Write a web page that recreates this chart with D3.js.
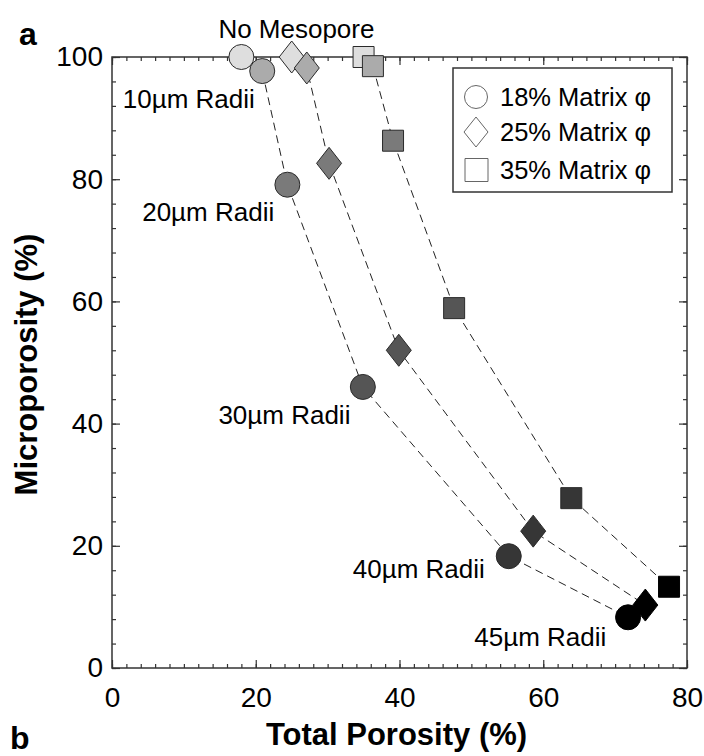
<!DOCTYPE html>
<html>
<head>
<meta charset="utf-8">
<script src="https://cdn.jsdelivr.net/npm/d3@7"></script>
<style>
  html, body { margin: 0; padding: 0; background: #fff; }
  svg { display: block; font-family: "Liberation Sans", Arial, sans-serif; }
</style>
</head>
<body>
<svg id="chart" width="704" height="756"></svg>
<script>
// Total porosity (%) and microporosity (%) for each mesopore radius step
const radiusSteps = ["No Mesopore", "10µm Radii", "20µm Radii", "30µm Radii", "40µm Radii", "45µm Radii"];

const totalPorosity18 = [18.0, 20.9, 24.4, 34.9, 55.2, 71.8];
const microporosity18 = [100.0, 97.7, 79.1, 46.0, 18.3, 8.3];

const totalPorosity25 = [25.0, 27.1, 30.2, 39.9, 58.6, 74.2];
const microporosity25 = [100.0, 98.2, 82.6, 52.0, 22.4, 10.3];

const totalPorosity35 = [35.0, 36.3, 39.1, 47.6, 63.9, 77.5];
const microporosity35 = [100.0, 98.5, 86.3, 58.9, 27.8, 13.3];

const seriesNames = ["18% Matrix φ", "25% Matrix φ", "35% Matrix φ"];

const xTicks = [0, 20, 40, 60, 80];
const yTicks = [0, 20, 40, 60, 80, 100];

// Annotation anchors, in data units (total porosity, microporosity)
const labelX = [14.8, 1.5, 4.2, 14.8, 33.5, 50.4];
const labelY = [103.1, 91.6, 73.2, 39.9, 14.7, 3.6];

// ---------------------------------------------------------------
const svg = d3.select("#chart");
const plotLeft = 112, plotRight = 687, plotTop = 57, plotBottom = 668;

const x = d3.scaleLinear().domain([0, 80]).range([plotLeft, plotRight]);
const y = d3.scaleLinear().domain([0, 100]).range([plotBottom, plotTop]);

// Grey shade per radius step, light for no mesopore to black at 45µm
const shade = d3.scaleOrdinal().domain(d3.range(6))
  .range(["#dedede", "#ababab", "#7a7a7a", "#555555", "#363636", "#000000"]);

const frameColor = "#333";

// ---- axes: major + minor ticks on all four sides, pointing inward
const xMinor = d3.range(0, 80.001, 2);
const yMinor = d3.range(0, 100.001, 4);

function styleAxis(g) {
  g.select(".domain").remove();
  g.selectAll(".tick line").attr("stroke", frameColor).attr("stroke-width", 1.2);
  g.selectAll(".tick text").attr("fill", "#000").attr("font-size", 28)
    .attr("font-family", "'Liberation Sans', Arial, sans-serif");
}

// bottom
svg.append("g").attr("transform", `translate(0,${plotBottom})`)
  .call(d3.axisBottom(x).tickValues(xMinor).tickSize(-4).tickFormat(""))
  .call(styleAxis);
svg.append("g").attr("transform", `translate(0,${plotBottom})`)
  .call(d3.axisBottom(x).tickValues(xTicks).tickSize(-8).tickPadding(19).tickFormat(d3.format("d")))
  .call(styleAxis);
// top
svg.append("g").attr("transform", `translate(0,${plotTop})`)
  .call(d3.axisTop(x).tickValues(xMinor).tickSize(-4).tickFormat(""))
  .call(styleAxis);
svg.append("g").attr("transform", `translate(0,${plotTop})`)
  .call(d3.axisTop(x).tickValues(xTicks).tickSize(-8).tickFormat(""))
  .call(styleAxis);
// left
svg.append("g").attr("transform", `translate(${plotLeft},0)`)
  .call(d3.axisLeft(y).tickValues(yMinor).tickSize(-4).tickFormat(""))
  .call(styleAxis);
svg.append("g").attr("transform", `translate(${plotLeft},0)`)
  .call(d3.axisLeft(y).tickValues(yTicks).tickSize(-8).tickPadding(9).tickFormat(d3.format("d")))
  .call(styleAxis);
// right
svg.append("g").attr("transform", `translate(${plotRight},0)`)
  .call(d3.axisRight(y).tickValues(yMinor).tickSize(-4).tickFormat(""))
  .call(styleAxis);
svg.append("g").attr("transform", `translate(${plotRight},0)`)
  .call(d3.axisRight(y).tickValues(yTicks).tickSize(-8).tickFormat(""))
  .call(styleAxis);

// frame
svg.append("rect")
  .attr("x", plotLeft).attr("y", plotTop)
  .attr("width", plotRight - plotLeft).attr("height", plotBottom - plotTop)
  .attr("fill", "none").attr("stroke", frameColor).attr("stroke-width", 1.5);

// ---- axis titles and panel letters
svg.append("text")
  .attr("x", (plotLeft + plotRight) / 2 - 3).attr("y", 745)
  .attr("text-anchor", "middle").attr("font-size", 31).attr("font-weight", "bold")
  .text("Total Porosity (%)");

svg.append("text")
  .attr("transform", `translate(37,${(plotTop + plotBottom) / 2 + 2}) rotate(-90)`)
  .attr("text-anchor", "middle").attr("font-size", 31).attr("font-weight", "bold")
  .text("Microporosity (%)");

svg.append("text").attr("x", 19).attr("y", 45)
  .attr("font-size", 32).attr("font-weight", "bold").text("a");
svg.append("text").attr("x", 10).attr("y", 749)
  .attr("font-size", 32).attr("font-weight", "bold").text("b");

// ---- series
const series = [
  { name: seriesNames[0], xs: totalPorosity18, ys: microporosity18, shape: "circle" },
  { name: seriesNames[1], xs: totalPorosity25, ys: microporosity25, shape: "diamond" },
  { name: seriesNames[2], xs: totalPorosity35, ys: microporosity35, shape: "square" }
];

const line = d3.line().x(d => x(d[0])).y(d => y(d[1]));

svg.append("g").selectAll("path.trend")
  .data(series).join("path")
  .attr("class", "trend")
  .attr("d", s => line(s.xs.map((v, i) => [v, s.ys[i]])))
  .attr("fill", "none").attr("stroke", "#222").attr("stroke-width", 1)
  .attr("stroke-dasharray", "8,5");

// marker outlines
function markerPath(shape, cx, cy) {
  if (shape === "circle") {
    const r = 12.5;
    return `M${cx - r},${cy}a${r},${r} 0 1,0 ${2 * r},0a${r},${r} 0 1,0 ${-2 * r},0Z`;
  }
  if (shape === "diamond") {
    const w = 12.5, h = 16;
    return `M${cx},${cy - h}L${cx + w},${cy}L${cx},${cy + h}L${cx - w},${cy}Z`;
  }
  const s = 10.5;
  return `M${cx - s},${cy - s}H${cx + s}V${cy + s}H${cx - s}Z`;
}

series.forEach(s => {
  svg.append("g").selectAll("path")
    .data(s.xs.map((v, i) => ({ tx: v, my: s.ys[i], i })))
    .join("path")
    .attr("d", d => markerPath(s.shape, x(d.tx), y(d.my)))
    .attr("fill", d => shade(d.i))
    .attr("stroke", d => d.i === 5 ? "#000" : "#2a2a2a")
    .attr("stroke-width", 1);
});

// ---- radius annotations
svg.append("g").selectAll("text")
  .data(radiusSteps).join("text")
  .attr("x", (d, i) => x(labelX[i]))
  .attr("y", (d, i) => y(labelY[i]))
  .attr("font-size", 26).attr("fill", "#000")
  .text(d => d);

// ---- legend
const lg = svg.append("g");
lg.append("rect").attr("x", 453).attr("y", 68).attr("width", 219).attr("height", 124)
  .attr("fill", "#fff").attr("stroke", frameColor).attr("stroke-width", 1.5);

const legendRows = [97, 132, 170];
series.forEach((s, k) => {
  const cy = legendRows[k];
  let d;
  if (s.shape === "circle") {
    const r = 11.5;
    d = `M${476 - r},${cy}a${r},${r} 0 1,0 ${2 * r},0a${r},${r} 0 1,0 ${-2 * r},0Z`;
  } else if (s.shape === "diamond") {
    d = `M476,${cy - 15}L488,${cy}L476,${cy + 15}L464,${cy}Z`;
  } else {
    d = `M465,${cy - 11.5}H488V${cy + 11.5}H465Z`;
  }
  lg.append("path").attr("d", d).attr("fill", "#fff").attr("stroke", "#666").attr("stroke-width", 1);
  lg.append("text").attr("x", 500).attr("y", cy + 9)
    .attr("font-size", 25.5).attr("fill", "#000").text(s.name);
});
</script>
</body>
</html>
